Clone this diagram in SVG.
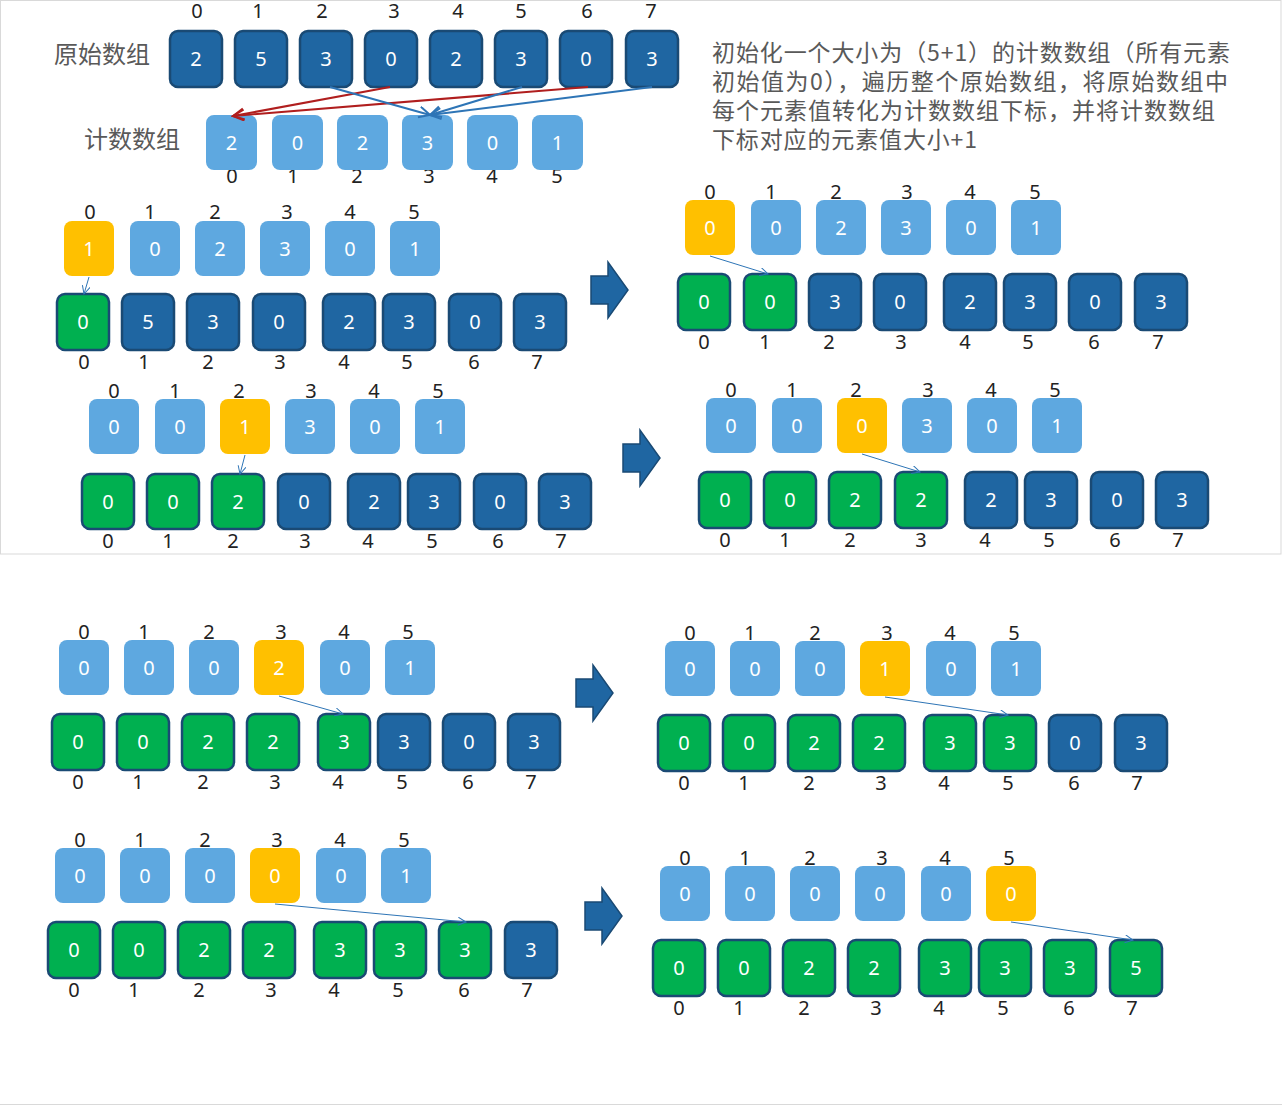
<svg xmlns="http://www.w3.org/2000/svg" width="1282" height="1106" viewBox="0 0 1282 1106">
<style>
.d{fill:#1F66A2;stroke:#1A4A74;stroke-width:2.5}
.g{fill:#00B050;stroke:#1A4A74;stroke-width:2.5}
.l{fill:#5EA8E0}
.y{fill:#FFC000}
.v{font-family:"Noto Sans","Open Sans",sans-serif;font-size:20px;fill:#fff;text-anchor:middle}
.i{font-family:"Noto Sans","Open Sans",sans-serif;font-size:20px;fill:#222;text-anchor:middle}
.lbl{font-family:"Noto Sans CJK SC",sans-serif;font-size:24px;fill:#595959}
.desc{font-family:"Noto Sans CJK SC",sans-serif;font-size:23px;fill:#595959}
.c{stroke:#2E75B6;stroke-width:1;fill:none;marker-end:url(#ah)}
.cb{stroke:#2E75B6;stroke-width:2;fill:none;marker-end:url(#ahb)}
.cr{stroke:#B01E1E;stroke-width:2;fill:none;marker-end:url(#ahr)}
.ba{fill:#1F66A2;stroke:#1A4A74;stroke-width:1.5}
</style>
<defs>
<marker id="ah" markerWidth="10" markerHeight="10" refX="9" refY="4" orient="auto" markerUnits="userSpaceOnUse"><path d="M1,0 L9,4 L1,8" fill="none" stroke="#2E75B6" stroke-width="1"/></marker>
<marker id="ahb" markerWidth="14" markerHeight="14" refX="12" refY="6" orient="auto" markerUnits="userSpaceOnUse"><path d="M1,0.5 L12,6 L1,11.5" fill="none" stroke="#2E75B6" stroke-width="2"/></marker>
<marker id="ahr" markerWidth="14" markerHeight="14" refX="12" refY="6" orient="auto" markerUnits="userSpaceOnUse"><path d="M1,0.5 L12,6 L1,11.5" fill="none" stroke="#B01E1E" stroke-width="2"/></marker>
<path id="blk" d="M0,-14 H17 V-28 L37,0 L17,28 V14 H0 Z"/>
</defs>
<rect x="0.5" y="0.5" width="1280.5" height="553.5" fill="none" stroke="#d9d9d9" stroke-width="1"/>
<line x1="0" y1="1104.5" x2="1282" y2="1104.5" stroke="#d9d9d9" stroke-width="1"/>

<g id="labels">
<text class="lbl" x="54" y="63">原始数组</text>
<text class="lbl" x="84" y="148">计数数组</text>
<text class="desc" x="712" y="61" textLength="518" lengthAdjust="spacing">初始化一个大小为（5+1）的计数数组（所有元素</text>
<text class="desc" x="712" y="90" textLength="516" lengthAdjust="spacing">初始值为0），遍历整个原始数组，将原始数组中</text>
<text class="desc" x="712" y="119" textLength="503" lengthAdjust="spacing">每个元素值转化为计数数组下标，并将计数数组</text>
<text class="desc" x="712" y="148" textLength="265" lengthAdjust="spacing">下标对应的元素值大小+1</text>
</g>

<g id="indices">
<text class="i" x="197" y="18">0</text><text class="i" x="258" y="18">1</text><text class="i" x="322" y="18">2</text><text class="i" x="394" y="18">3</text><text class="i" x="458" y="18">4</text><text class="i" x="521" y="18">5</text><text class="i" x="587" y="18">6</text><text class="i" x="651" y="18">7</text>
<text class="i" x="232" y="183">0</text><text class="i" x="293" y="183">1</text><text class="i" x="357" y="183">2</text><text class="i" x="429" y="183">3</text><text class="i" x="492" y="183">4</text><text class="i" x="557" y="183">5</text>
<text class="i" x="90" y="219">0</text><text class="i" x="150" y="219">1</text><text class="i" x="215" y="219">2</text><text class="i" x="287" y="219">3</text><text class="i" x="350" y="219">4</text><text class="i" x="414" y="219">5</text>
<text class="i" x="84" y="369">0</text><text class="i" x="144" y="369">1</text><text class="i" x="208" y="369">2</text><text class="i" x="280" y="369">3</text><text class="i" x="344" y="369">4</text><text class="i" x="407" y="369">5</text><text class="i" x="474" y="369">6</text><text class="i" x="537" y="369">7</text>
<text class="i" x="710" y="199">0</text><text class="i" x="771" y="199">1</text><text class="i" x="836" y="199">2</text><text class="i" x="907" y="199">3</text><text class="i" x="970" y="199">4</text><text class="i" x="1035" y="199">5</text>
<text class="i" x="704" y="349">0</text><text class="i" x="765" y="349">1</text><text class="i" x="829" y="349">2</text><text class="i" x="901" y="349">3</text><text class="i" x="965" y="349">4</text><text class="i" x="1028" y="349">5</text><text class="i" x="1094" y="349">6</text><text class="i" x="1158" y="349">7</text>
<text class="i" x="114" y="398">0</text><text class="i" x="175" y="398">1</text><text class="i" x="239" y="398">2</text><text class="i" x="311" y="398">3</text><text class="i" x="374" y="398">4</text><text class="i" x="438" y="398">5</text>
<text class="i" x="108" y="548">0</text><text class="i" x="168" y="548">1</text><text class="i" x="233" y="548">2</text><text class="i" x="305" y="548">3</text><text class="i" x="368" y="548">4</text><text class="i" x="432" y="548">5</text><text class="i" x="498" y="548">6</text><text class="i" x="561" y="548">7</text>
<text class="i" x="731" y="397">0</text><text class="i" x="792" y="397">1</text><text class="i" x="856" y="397">2</text><text class="i" x="928" y="397">3</text><text class="i" x="991" y="397">4</text><text class="i" x="1055" y="397">5</text>
<text class="i" x="725" y="547">0</text><text class="i" x="785" y="547">1</text><text class="i" x="850" y="547">2</text><text class="i" x="921" y="547">3</text><text class="i" x="985" y="547">4</text><text class="i" x="1049" y="547">5</text><text class="i" x="1115" y="547">6</text><text class="i" x="1178" y="547">7</text>
<text class="i" x="84" y="639">0</text><text class="i" x="144" y="639">1</text><text class="i" x="209" y="639">2</text><text class="i" x="281" y="639">3</text><text class="i" x="344" y="639">4</text><text class="i" x="408" y="639">5</text>
<text class="i" x="78" y="789">0</text><text class="i" x="138" y="789">1</text><text class="i" x="203" y="789">2</text><text class="i" x="275" y="789">3</text><text class="i" x="338" y="789">4</text><text class="i" x="402" y="789">5</text><text class="i" x="468" y="789">6</text><text class="i" x="531" y="789">7</text>
<text class="i" x="690" y="640">0</text><text class="i" x="750" y="640">1</text><text class="i" x="815" y="640">2</text><text class="i" x="887" y="640">3</text><text class="i" x="950" y="640">4</text><text class="i" x="1014" y="640">5</text>
<text class="i" x="684" y="790">0</text><text class="i" x="744" y="790">1</text><text class="i" x="809" y="790">2</text><text class="i" x="881" y="790">3</text><text class="i" x="944" y="790">4</text><text class="i" x="1008" y="790">5</text><text class="i" x="1074" y="790">6</text><text class="i" x="1137" y="790">7</text>
<text class="i" x="80" y="847">0</text><text class="i" x="140" y="847">1</text><text class="i" x="205" y="847">2</text><text class="i" x="277" y="847">3</text><text class="i" x="340" y="847">4</text><text class="i" x="404" y="847">5</text>
<text class="i" x="74" y="997">0</text><text class="i" x="134" y="997">1</text><text class="i" x="199" y="997">2</text><text class="i" x="271" y="997">3</text><text class="i" x="334" y="997">4</text><text class="i" x="398" y="997">5</text><text class="i" x="464" y="997">6</text><text class="i" x="527" y="997">7</text>
<text class="i" x="685" y="865">0</text><text class="i" x="745" y="865">1</text><text class="i" x="810" y="865">2</text><text class="i" x="882" y="865">3</text><text class="i" x="945" y="865">4</text><text class="i" x="1009" y="865">5</text>
<text class="i" x="679" y="1015">0</text><text class="i" x="739" y="1015">1</text><text class="i" x="804" y="1015">2</text><text class="i" x="876" y="1015">3</text><text class="i" x="939" y="1015">4</text><text class="i" x="1003" y="1015">5</text><text class="i" x="1069" y="1015">6</text><text class="i" x="1132" y="1015">7</text>
</g>

<g id="o0"><rect class="d" x="170" y="31" width="52" height="56" rx="8"/><text class="v" x="196" y="66">2</text></g>
<g id="o1"><rect class="d" x="235" y="31" width="52" height="56" rx="8"/><text class="v" x="261" y="66">5</text></g>
<g id="o2"><rect class="d" x="300" y="31" width="52" height="56" rx="8"/><text class="v" x="326" y="66">3</text></g>
<g id="o3"><rect class="d" x="365" y="31" width="52" height="56" rx="8"/><text class="v" x="391" y="66">0</text></g>
<g id="o4"><rect class="d" x="430" y="31" width="52" height="56" rx="8"/><text class="v" x="456" y="66">2</text></g>
<g id="o5"><rect class="d" x="495" y="31" width="52" height="56" rx="8"/><text class="v" x="521" y="66">3</text></g>
<g id="o6"><rect class="d" x="560" y="31" width="52" height="56" rx="8"/><text class="v" x="586" y="66">0</text></g>
<g id="o7"><rect class="d" x="626" y="31" width="52" height="56" rx="8"/><text class="v" x="652" y="66">3</text></g>
<g id="c0"><rect class="l" x="206" y="115" width="51" height="55" rx="8"/><text class="v" x="231.5" y="150">2</text></g>
<g id="c1"><rect class="l" x="272" y="115" width="51" height="55" rx="8"/><text class="v" x="297.5" y="150">0</text></g>
<g id="c2"><rect class="l" x="337" y="115" width="51" height="55" rx="8"/><text class="v" x="362.5" y="150">2</text></g>
<g id="c3"><rect class="l" x="402" y="115" width="51" height="55" rx="8"/><text class="v" x="427.5" y="150">3</text></g>
<g id="c4"><rect class="l" x="467" y="115" width="51" height="55" rx="8"/><text class="v" x="492.5" y="150">0</text></g>
<g id="c5"><rect class="l" x="532" y="115" width="51" height="55" rx="8"/><text class="v" x="557.5" y="150">1</text></g>

<g id="a_c0"><rect class="y" x="64" y="221" width="50" height="55" rx="8"/><text class="v" x="89" y="256">1</text></g>
<g id="a_c1"><rect class="l" x="130" y="221" width="50" height="55" rx="8"/><text class="v" x="155" y="256">0</text></g>
<g id="a_c2"><rect class="l" x="195" y="221" width="50" height="55" rx="8"/><text class="v" x="220" y="256">2</text></g>
<g id="a_c3"><rect class="l" x="260" y="221" width="50" height="55" rx="8"/><text class="v" x="285" y="256">3</text></g>
<g id="a_c4"><rect class="l" x="325" y="221" width="50" height="55" rx="8"/><text class="v" x="350" y="256">0</text></g>
<g id="a_c5"><rect class="l" x="390" y="221" width="50" height="55" rx="8"/><text class="v" x="415" y="256">1</text></g>
<g id="a_o0"><rect class="g" x="57" y="294" width="52" height="56" rx="8"/><text class="v" x="83" y="329">0</text></g>
<g id="a_o1"><rect class="d" x="122" y="294" width="52" height="56" rx="8"/><text class="v" x="148" y="329">5</text></g>
<g id="a_o2"><rect class="d" x="187" y="294" width="52" height="56" rx="8"/><text class="v" x="213" y="329">3</text></g>
<g id="a_o3"><rect class="d" x="253" y="294" width="52" height="56" rx="8"/><text class="v" x="279" y="329">0</text></g>
<g id="a_o4"><rect class="d" x="323" y="294" width="52" height="56" rx="8"/><text class="v" x="349" y="329">2</text></g>
<g id="a_o5"><rect class="d" x="383" y="294" width="52" height="56" rx="8"/><text class="v" x="409" y="329">3</text></g>
<g id="a_o6"><rect class="d" x="449" y="294" width="52" height="56" rx="8"/><text class="v" x="475" y="329">0</text></g>
<g id="a_o7"><rect class="d" x="514" y="294" width="52" height="56" rx="8"/><text class="v" x="540" y="329">3</text></g>

<g id="b_c0"><rect class="y" x="685" y="200" width="50" height="55" rx="8"/><text class="v" x="710" y="235">0</text></g>
<g id="b_c1"><rect class="l" x="751" y="200" width="50" height="55" rx="8"/><text class="v" x="776" y="235">0</text></g>
<g id="b_c2"><rect class="l" x="816" y="200" width="50" height="55" rx="8"/><text class="v" x="841" y="235">2</text></g>
<g id="b_c3"><rect class="l" x="881" y="200" width="50" height="55" rx="8"/><text class="v" x="906" y="235">3</text></g>
<g id="b_c4"><rect class="l" x="946" y="200" width="50" height="55" rx="8"/><text class="v" x="971" y="235">0</text></g>
<g id="b_c5"><rect class="l" x="1011" y="200" width="50" height="55" rx="8"/><text class="v" x="1036" y="235">1</text></g>
<g id="b_o0"><rect class="g" x="678" y="274" width="52" height="56" rx="8"/><text class="v" x="704" y="309">0</text></g>
<g id="b_o1"><rect class="g" x="744" y="274" width="52" height="56" rx="8"/><text class="v" x="770" y="309">0</text></g>
<g id="b_o2"><rect class="d" x="809" y="274" width="52" height="56" rx="8"/><text class="v" x="835" y="309">3</text></g>
<g id="b_o3"><rect class="d" x="874" y="274" width="52" height="56" rx="8"/><text class="v" x="900" y="309">0</text></g>
<g id="b_o4"><rect class="d" x="944" y="274" width="52" height="56" rx="8"/><text class="v" x="970" y="309">2</text></g>
<g id="b_o5"><rect class="d" x="1004" y="274" width="52" height="56" rx="8"/><text class="v" x="1030" y="309">3</text></g>
<g id="b_o6"><rect class="d" x="1069" y="274" width="52" height="56" rx="8"/><text class="v" x="1095" y="309">0</text></g>
<g id="b_o7"><rect class="d" x="1135" y="274" width="52" height="56" rx="8"/><text class="v" x="1161" y="309">3</text></g>

<g id="cc_c0"><rect class="l" x="89" y="399" width="50" height="55" rx="8"/><text class="v" x="114" y="434">0</text></g>
<g id="cc_c1"><rect class="l" x="155" y="399" width="50" height="55" rx="8"/><text class="v" x="180" y="434">0</text></g>
<g id="cc_c2"><rect class="y" x="220" y="399" width="50" height="55" rx="8"/><text class="v" x="245" y="434">1</text></g>
<g id="cc_c3"><rect class="l" x="285" y="399" width="50" height="55" rx="8"/><text class="v" x="310" y="434">3</text></g>
<g id="cc_c4"><rect class="l" x="350" y="399" width="50" height="55" rx="8"/><text class="v" x="375" y="434">0</text></g>
<g id="cc_c5"><rect class="l" x="415" y="399" width="50" height="55" rx="8"/><text class="v" x="440" y="434">1</text></g>
<g id="cc_o0"><rect class="g" x="82" y="474" width="52" height="55" rx="8"/><text class="v" x="108" y="509">0</text></g>
<g id="cc_o1"><rect class="g" x="147" y="474" width="52" height="55" rx="8"/><text class="v" x="173" y="509">0</text></g>
<g id="cc_o2"><rect class="g" x="212" y="474" width="52" height="55" rx="8"/><text class="v" x="238" y="509">2</text></g>
<g id="cc_o3"><rect class="d" x="278" y="474" width="52" height="55" rx="8"/><text class="v" x="304" y="509">0</text></g>
<g id="cc_o4"><rect class="d" x="348" y="474" width="52" height="55" rx="8"/><text class="v" x="374" y="509">2</text></g>
<g id="cc_o5"><rect class="d" x="408" y="474" width="52" height="55" rx="8"/><text class="v" x="434" y="509">3</text></g>
<g id="cc_o6"><rect class="d" x="474" y="474" width="52" height="55" rx="8"/><text class="v" x="500" y="509">0</text></g>
<g id="cc_o7"><rect class="d" x="539" y="474" width="52" height="55" rx="8"/><text class="v" x="565" y="509">3</text></g>

<g id="d_c0"><rect class="l" x="706" y="398" width="50" height="55" rx="8"/><text class="v" x="731" y="433">0</text></g>
<g id="d_c1"><rect class="l" x="772" y="398" width="50" height="55" rx="8"/><text class="v" x="797" y="433">0</text></g>
<g id="d_c2"><rect class="y" x="837" y="398" width="50" height="55" rx="8"/><text class="v" x="862" y="433">0</text></g>
<g id="d_c3"><rect class="l" x="902" y="398" width="50" height="55" rx="8"/><text class="v" x="927" y="433">3</text></g>
<g id="d_c4"><rect class="l" x="967" y="398" width="50" height="55" rx="8"/><text class="v" x="992" y="433">0</text></g>
<g id="d_c5"><rect class="l" x="1032" y="398" width="50" height="55" rx="8"/><text class="v" x="1057" y="433">1</text></g>
<g id="d_o0"><rect class="g" x="699" y="472" width="52" height="56" rx="8"/><text class="v" x="725" y="507">0</text></g>
<g id="d_o1"><rect class="g" x="764" y="472" width="52" height="56" rx="8"/><text class="v" x="790" y="507">0</text></g>
<g id="d_o2"><rect class="g" x="829" y="472" width="52" height="56" rx="8"/><text class="v" x="855" y="507">2</text></g>
<g id="d_o3"><rect class="g" x="895" y="472" width="52" height="56" rx="8"/><text class="v" x="921" y="507">2</text></g>
<g id="d_o4"><rect class="d" x="965" y="472" width="52" height="56" rx="8"/><text class="v" x="991" y="507">2</text></g>
<g id="d_o5"><rect class="d" x="1025" y="472" width="52" height="56" rx="8"/><text class="v" x="1051" y="507">3</text></g>
<g id="d_o6"><rect class="d" x="1091" y="472" width="52" height="56" rx="8"/><text class="v" x="1117" y="507">0</text></g>
<g id="d_o7"><rect class="d" x="1156" y="472" width="52" height="56" rx="8"/><text class="v" x="1182" y="507">3</text></g>

<g id="e_c0"><rect class="l" x="59" y="640" width="50" height="55" rx="8"/><text class="v" x="84" y="675">0</text></g>
<g id="e_c1"><rect class="l" x="124" y="640" width="50" height="55" rx="8"/><text class="v" x="149" y="675">0</text></g>
<g id="e_c2"><rect class="l" x="189" y="640" width="50" height="55" rx="8"/><text class="v" x="214" y="675">0</text></g>
<g id="e_c3"><rect class="y" x="254" y="640" width="50" height="55" rx="8"/><text class="v" x="279" y="675">2</text></g>
<g id="e_c4"><rect class="l" x="320" y="640" width="50" height="55" rx="8"/><text class="v" x="345" y="675">0</text></g>
<g id="e_c5"><rect class="l" x="385" y="640" width="50" height="55" rx="8"/><text class="v" x="410" y="675">1</text></g>
<g id="e_o0"><rect class="g" x="52" y="714" width="52" height="56" rx="8"/><text class="v" x="78" y="749">0</text></g>
<g id="e_o1"><rect class="g" x="117" y="714" width="52" height="56" rx="8"/><text class="v" x="143" y="749">0</text></g>
<g id="e_o2"><rect class="g" x="182" y="714" width="52" height="56" rx="8"/><text class="v" x="208" y="749">2</text></g>
<g id="e_o3"><rect class="g" x="247" y="714" width="52" height="56" rx="8"/><text class="v" x="273" y="749">2</text></g>
<g id="e_o4"><rect class="g" x="318" y="714" width="52" height="56" rx="8"/><text class="v" x="344" y="749">3</text></g>
<g id="e_o5"><rect class="d" x="378" y="714" width="52" height="56" rx="8"/><text class="v" x="404" y="749">3</text></g>
<g id="e_o6"><rect class="d" x="443" y="714" width="52" height="56" rx="8"/><text class="v" x="469" y="749">0</text></g>
<g id="e_o7"><rect class="d" x="508" y="714" width="52" height="56" rx="8"/><text class="v" x="534" y="749">3</text></g>

<g id="f_c0"><rect class="l" x="665" y="641" width="50" height="55" rx="8"/><text class="v" x="690" y="676">0</text></g>
<g id="f_c1"><rect class="l" x="730" y="641" width="50" height="55" rx="8"/><text class="v" x="755" y="676">0</text></g>
<g id="f_c2"><rect class="l" x="795" y="641" width="50" height="55" rx="8"/><text class="v" x="820" y="676">0</text></g>
<g id="f_c3"><rect class="y" x="860" y="641" width="50" height="55" rx="8"/><text class="v" x="885" y="676">1</text></g>
<g id="f_c4"><rect class="l" x="926" y="641" width="50" height="55" rx="8"/><text class="v" x="951" y="676">0</text></g>
<g id="f_c5"><rect class="l" x="991" y="641" width="50" height="55" rx="8"/><text class="v" x="1016" y="676">1</text></g>
<g id="f_o0"><rect class="g" x="658" y="715" width="52" height="56" rx="8"/><text class="v" x="684" y="750">0</text></g>
<g id="f_o1"><rect class="g" x="723" y="715" width="52" height="56" rx="8"/><text class="v" x="749" y="750">0</text></g>
<g id="f_o2"><rect class="g" x="788" y="715" width="52" height="56" rx="8"/><text class="v" x="814" y="750">2</text></g>
<g id="f_o3"><rect class="g" x="853" y="715" width="52" height="56" rx="8"/><text class="v" x="879" y="750">2</text></g>
<g id="f_o4"><rect class="g" x="924" y="715" width="52" height="56" rx="8"/><text class="v" x="950" y="750">3</text></g>
<g id="f_o5"><rect class="g" x="984" y="715" width="52" height="56" rx="8"/><text class="v" x="1010" y="750">3</text></g>
<g id="f_o6"><rect class="d" x="1049" y="715" width="52" height="56" rx="8"/><text class="v" x="1075" y="750">0</text></g>
<g id="f_o7"><rect class="d" x="1115" y="715" width="52" height="56" rx="8"/><text class="v" x="1141" y="750">3</text></g>

<g id="g_c0"><rect class="l" x="55" y="848" width="50" height="55" rx="8"/><text class="v" x="80" y="883">0</text></g>
<g id="g_c1"><rect class="l" x="120" y="848" width="50" height="55" rx="8"/><text class="v" x="145" y="883">0</text></g>
<g id="g_c2"><rect class="l" x="185" y="848" width="50" height="55" rx="8"/><text class="v" x="210" y="883">0</text></g>
<g id="g_c3"><rect class="y" x="250" y="848" width="50" height="55" rx="8"/><text class="v" x="275" y="883">0</text></g>
<g id="g_c4"><rect class="l" x="316" y="848" width="50" height="55" rx="8"/><text class="v" x="341" y="883">0</text></g>
<g id="g_c5"><rect class="l" x="381" y="848" width="50" height="55" rx="8"/><text class="v" x="406" y="883">1</text></g>
<g id="g_o0"><rect class="g" x="48" y="922" width="52" height="56" rx="8"/><text class="v" x="74" y="957">0</text></g>
<g id="g_o1"><rect class="g" x="113" y="922" width="52" height="56" rx="8"/><text class="v" x="139" y="957">0</text></g>
<g id="g_o2"><rect class="g" x="178" y="922" width="52" height="56" rx="8"/><text class="v" x="204" y="957">2</text></g>
<g id="g_o3"><rect class="g" x="243" y="922" width="52" height="56" rx="8"/><text class="v" x="269" y="957">2</text></g>
<g id="g_o4"><rect class="g" x="314" y="922" width="52" height="56" rx="8"/><text class="v" x="340" y="957">3</text></g>
<g id="g_o5"><rect class="g" x="374" y="922" width="52" height="56" rx="8"/><text class="v" x="400" y="957">3</text></g>
<g id="g_o6"><rect class="g" x="439" y="922" width="52" height="56" rx="8"/><text class="v" x="465" y="957">3</text></g>
<g id="g_o7"><rect class="d" x="505" y="922" width="52" height="56" rx="8"/><text class="v" x="531" y="957">3</text></g>

<g id="h_c0"><rect class="l" x="660" y="866" width="50" height="55" rx="8"/><text class="v" x="685" y="901">0</text></g>
<g id="h_c1"><rect class="l" x="725" y="866" width="50" height="55" rx="8"/><text class="v" x="750" y="901">0</text></g>
<g id="h_c2"><rect class="l" x="790" y="866" width="50" height="55" rx="8"/><text class="v" x="815" y="901">0</text></g>
<g id="h_c3"><rect class="l" x="855" y="866" width="50" height="55" rx="8"/><text class="v" x="880" y="901">0</text></g>
<g id="h_c4"><rect class="l" x="921" y="866" width="50" height="55" rx="8"/><text class="v" x="946" y="901">0</text></g>
<g id="h_c5"><rect class="y" x="986" y="866" width="50" height="55" rx="8"/><text class="v" x="1011" y="901">0</text></g>
<g id="h_o0"><rect class="g" x="653" y="940" width="52" height="56" rx="8"/><text class="v" x="679" y="975">0</text></g>
<g id="h_o1"><rect class="g" x="718" y="940" width="52" height="56" rx="8"/><text class="v" x="744" y="975">0</text></g>
<g id="h_o2"><rect class="g" x="783" y="940" width="52" height="56" rx="8"/><text class="v" x="809" y="975">2</text></g>
<g id="h_o3"><rect class="g" x="848" y="940" width="52" height="56" rx="8"/><text class="v" x="874" y="975">2</text></g>
<g id="h_o4"><rect class="g" x="919" y="940" width="52" height="56" rx="8"/><text class="v" x="945" y="975">3</text></g>
<g id="h_o5"><rect class="g" x="979" y="940" width="52" height="56" rx="8"/><text class="v" x="1005" y="975">3</text></g>
<g id="h_o6"><rect class="g" x="1044" y="940" width="52" height="56" rx="8"/><text class="v" x="1070" y="975">3</text></g>
<g id="h_o7"><rect class="g" x="1110" y="940" width="52" height="56" rx="8"/><text class="v" x="1136" y="975">5</text></g>

<g id="step1"><use href="#blk" class="ba" transform="translate(591,290)"/></g>
<g id="step2"><use href="#blk" class="ba" transform="translate(623,458)"/></g>
<g id="step3"><use href="#blk" class="ba" transform="translate(576,693)"/></g>
<g id="step4"><use href="#blk" class="ba" transform="translate(585,916)"/></g>

<g id="connectors">
<line class="cr" x1="390" y1="87" x2="233" y2="116"/>
<line class="cr" x1="588" y1="87" x2="233" y2="116"/>
<line class="cb" x1="330" y1="87" x2="430" y2="115"/>
<line class="cb" x1="522" y1="87" x2="430" y2="115"/>
<line class="cb" x1="652" y1="87" x2="430" y2="115"/>
<line class="c" x1="89" y1="277" x2="84" y2="294"/>
<line class="c" x1="710" y1="256" x2="768" y2="274"/>
<line class="c" x1="245" y1="455" x2="240" y2="474"/>
<line class="c" x1="862" y1="454" x2="920" y2="472"/>
<line class="c" x1="279" y1="696" x2="343" y2="714"/>
<line class="c" x1="885" y1="697" x2="1008" y2="715"/>
<line class="c" x1="275" y1="904" x2="466" y2="922"/>
<line class="c" x1="1011" y1="922" x2="1133" y2="940"/>
</g>
</svg>
